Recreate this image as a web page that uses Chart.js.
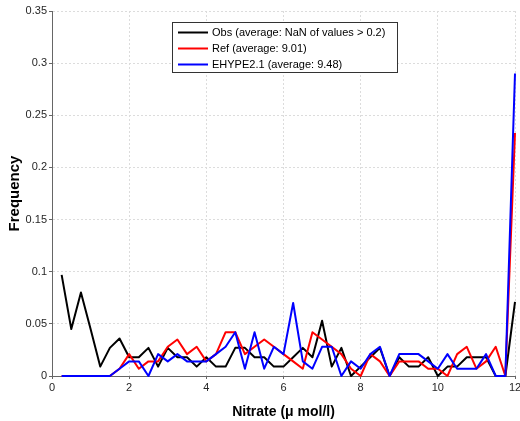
<!DOCTYPE html>
<html><head><meta charset="utf-8">
<script src="https://cdn.jsdelivr.net/npm/chart.js@4/dist/chart.umd.min.js"></script>
<style>html,body{margin:0;padding:0;background:#fff}#wrap{width:520px;height:421px}</style>
</head><body><div id="wrap"><canvas id="c" width="520" height="421"></canvas></div>
<script>
const nitrate = [0.25,0.5,0.75,1,1.25,1.5,1.75,2,2.25,2.5,2.75,3,3.25,3.5,3.75,4,4.25,4.5,4.75,5,5.25,5.5,5.75,6,6.25,6.5,6.75,7,7.25,7.5,7.75,8,8.25,8.5,8.75,9,9.25,9.5,9.75,10,10.25,10.5,10.75,11,11.25,11.5,11.75,12];
const obs = [0.097,0.045,0.080,0.045,0.009,0.027,0.036,0.018,0.018,0.027,0.009,0.027,0.018,0.018,0.009,0.018,0.009,0.009,0.027,0.027,0.018,0.018,0.009,0.009,0.018,0.027,0.018,0.053,0.009,0.027,0,0.009,0.018,0.027,0,0.018,0.009,0.009,0.018,0,0.009,0.009,0.018,0.018,0.018,0,0,0.071];
const ref = [0,0,0,0,0,0,0.007,0.021,0.007,0.014,0.014,0.028,0.035,0.021,0.028,0.014,0.021,0.042,0.042,0.021,0.028,0.035,0.028,0.021,0.014,0.007,0.042,0.035,0.028,0.021,0.007,0,0.021,0.014,0,0.014,0.014,0.014,0.007,0.007,0,0.021,0.028,0.007,0.014,0.028,0,0.233];
const ehype = [0,0,0,0,0,0,0.007,0.014,0.014,0,0.021,0.014,0.021,0.014,0.014,0.014,0.021,0.028,0.042,0.007,0.042,0.007,0.028,0.021,0.070,0.014,0.007,0.028,0.028,0,0.014,0.007,0.021,0.028,0,0.021,0.021,0.021,0.014,0.007,0.021,0.007,0.007,0.007,0.021,0,0,0.290];
const seriesNames = ['Obs (average: NaN of values > 0.2)','Ref (average: 9.01)','EHYPE2.1 (average: 9.48)'];
const seriesColors = ['#000000','#ff0000','#0000ff'];
const xTicks = [0,2,4,6,8,10,12];
const yTicks = [0,0.05,0.1,0.15,0.2,0.25,0.3,0.35];
const xTitle = 'Nitrate (\u03bc mol/l)';
const yTitle = 'Frequency';

const FONT = '"Liberation Sans", Arial, sans-serif';
const allSeries = [obs, ref, ehype];
const datasets = allSeries.map((s,i)=>({
  label: seriesNames[i],
  data: nitrate.map((x,j)=>({x:x,y:s[j]})),
  borderColor: seriesColors[i],
  backgroundColor: seriesColors[i],
  borderWidth: 2,
  borderJoinStyle: 'round',
  pointRadius: 0,
  tension: 0,
  order: 3-i,
  clip: 2
}));

const legendPlugin = {
  id:'boxLegend',
  afterDraw(chart){
    const ctx = chart.ctx;
    const x0=172, y0=22, w=225, h=50;
    ctx.save();
    ctx.fillStyle='#fff';
    ctx.fillRect(x0,y0,w,h);
    ctx.strokeStyle='#333';
    ctx.lineWidth=1;
    ctx.strokeRect(x0+0.5,y0+0.5,w,h);
    ctx.font='11px '+FONT;
    ctx.textBaseline='middle';
    chart.data.datasets.forEach((d,i)=>{
      const yy = y0+10.5+i*16;
      ctx.strokeStyle=d.borderColor;
      ctx.lineWidth=2;
      ctx.beginPath();ctx.moveTo(x0+6,yy);ctx.lineTo(x0+36,yy);ctx.stroke();
      ctx.fillStyle='#000';
      ctx.fillText(d.label,x0+40,yy+0.5);
    });
    ctx.restore();
  }
};

new Chart(document.getElementById('c'),{
  type:'line',
  data:{datasets},
  plugins:[legendPlugin],
  options:{
    responsive:false,
    animation:false,
    devicePixelRatio:1,
    layout:{padding:{top:11,right:5,left:0,bottom:0}},
    plugins:{legend:{display:false},tooltip:{enabled:false}},
    scales:{
      x:{
        type:'linear',min:0,max:12,
        afterBuildTicks:(s)=>{s.ticks=xTicks.map(v=>({value:v}));},
        afterFit:(s)=>{s.height=45;s.paddingRight=0;s.paddingLeft=0;},
        ticks:{font:{family:FONT,size:11},color:'#262626',padding:2,maxRotation:0,callback:(v)=>String(v)},
        grid:{color:'#dcdcdc',tickColor:'#666',tickLength:3,lineWidth:1,drawTicks:true},
        border:{display:true,color:'#666',dash:[2,2]},
        title:{display:true,text:xTitle,font:{family:FONT,size:14,weight:'bold'},color:'#000',padding:{top:4,bottom:0}}
      },
      y:{
        type:'linear',min:0,max:0.35,
        afterBuildTicks:(s)=>{s.ticks=yTicks.map(v=>({value:v}));},
        afterFit:(s)=>{s.width=52;s.paddingTop=0;s.paddingBottom=0;},
        ticks:{font:{family:FONT,size:11},color:'#262626',padding:2,callback:(v)=>String(parseFloat(v.toFixed(2)))},
        grid:{color:'#dcdcdc',tickColor:'#666',tickLength:3,lineWidth:1},
        border:{display:true,color:'#666',dash:[2,2]},
        title:{display:true,text:yTitle,font:{family:FONT,size:15,weight:'bold'},color:'#000',padding:{top:6,bottom:0}}
      }
    }
  }
});
</script></body></html>
